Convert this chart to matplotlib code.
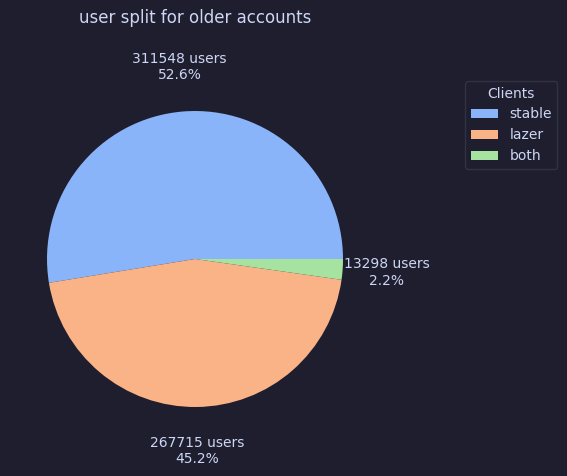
import matplotlib
matplotlib.use("Agg")
import matplotlib.pyplot as plt

BG = "#1e1e2e"
FG = "#cdd6f4"

clients = ["stable", "lazer", "both"]
users = [311548, 267715, 13298]
colors = ["#89b4fa", "#fab387", "#a6e3a1"]

total = sum(users)


def fmt(pct):
    count = int(round(pct * total / 100.0))
    return f"{count} users\n{pct:.1f}%"


fig = plt.figure(figsize=(5.67, 4.76), dpi=100, facecolor=BG)
ax = fig.add_axes([10 / 567, 32 / 476, 370 / 567, 370 / 476])
ax.set_facecolor(BG)

wedges, texts, autotexts = ax.pie(users, colors=colors, autopct=fmt,
                                  pctdistance=1.3, startangle=0,
                                  textprops={"color": FG, "fontsize": 10})

fig.text(195 / 567, 1 - 18 / 476, "user split for older accounts",
         ha="center", va="center", color=FG, fontsize=12)

# legend sits outside the pie, to the right
leg = ax.legend(wedges, clients, title="Clients", loc="upper left",
                bbox_to_anchor=(458 / 567, 1 - 74 / 476),
                bbox_transform=fig.transFigure, fontsize=10,
                facecolor=BG, edgecolor="#313244", labelcolor=FG)
leg.get_title().set_color(FG)
leg.get_frame().set_alpha(1)

fig.savefig("out.png", dpi=100, facecolor=BG)
